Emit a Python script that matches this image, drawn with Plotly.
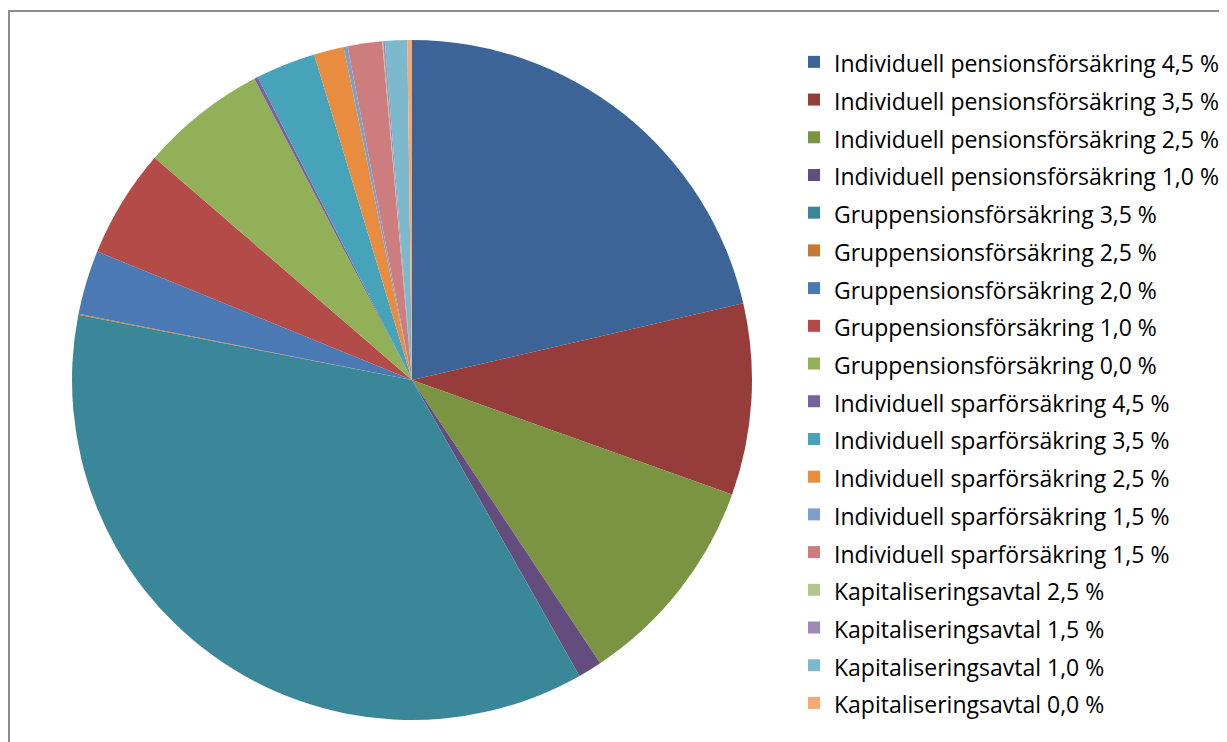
import plotly.graph_objects as go

labels = [
    "Individuell pensionsförsäkring 4,5 %",
    "Individuell pensionsförsäkring 3,5 %",
    "Individuell pensionsförsäkring 2,5 %",
    "Individuell pensionsförsäkring 1,0 %",
    "Gruppensionsförsäkring 3,5 %",
    "Gruppensionsförsäkring 2,5 %",
    "Gruppensionsförsäkring 2,0 %",
    "Gruppensionsförsäkring 1,0 %",
    "Gruppensionsförsäkring 0,0 %",
    "Individuell sparförsäkring 4,5 %",
    "Individuell sparförsäkring 3,5 %",
    "Individuell sparförsäkring 2,5 %",
    "Individuell sparförsäkring 1,5 %",
    "Individuell sparförsäkring 1,5 % ",
    "Kapitaliseringsavtal 2,5 %",
    "Kapitaliseringsavtal 1,5 %",
    "Kapitaliseringsavtal 1,0 %",
    "Kapitaliseringsavtal 0,0 %",
]
values = [21.4, 9.1, 10.2, 1.14, 36.3, 0.05, 3.05, 5.17, 6.0, 0.17,
          2.86, 1.42, 0.19, 1.64, 0.04, 0.08, 1.06, 0.22]
colors = ["#3C6496", "#963D3B", "#7A9442", "#634C7E", "#3A879A", "#C57832",
          "#4A79B3", "#B34C49", "#92B057", "#7960A0", "#46A3BA", "#E88D40",
          "#7F9FCB", "#CD7D7D", "#B1C88A", "#9D8AB6", "#7DB9CD", "#F7A877"]

W, H = 1227, 742
legend_text = [f"<span style='font-size:23px'>{l}</span>" for l in labels]

fig = go.Figure(go.Pie(
    labels=legend_text,
    values=values,
    marker=dict(colors=colors, line=dict(width=0)),
    sort=False,
    direction="clockwise",
    rotation=0,
    textinfo="none",
    hovertext=labels,
    hoverinfo="text+percent",
    domain=dict(x=[64 / W, 744 / W], y=[(H - 712) / H, (H - 32) / H]),
))

fig.update_layout(
    width=W, height=H,
    margin=dict(l=0, r=0, t=0, b=0),
    paper_bgcolor="white",
    plot_bgcolor="white",
    font=dict(family="Open Sans, sans-serif", color="#000000"),
    legend=dict(
        x=786 / W, xanchor="left",
        y=1 - 30 / H, yanchor="top",
        font=dict(size=26.7, family="Open Sans, sans-serif", color="#000000"),
        bgcolor="rgba(0,0,0,0)",
        traceorder="normal",
    ),
    shapes=[dict(
        type="rect", xref="paper", yref="paper",
        x0=1 / W, x1=1.02, y0=-0.05, y1=1 - 3 / H,
        line=dict(color="#8C8C8C", width=2),
        fillcolor="rgba(0,0,0,0)", layer="above",
    )],
)

fig.write_html("out.html")
